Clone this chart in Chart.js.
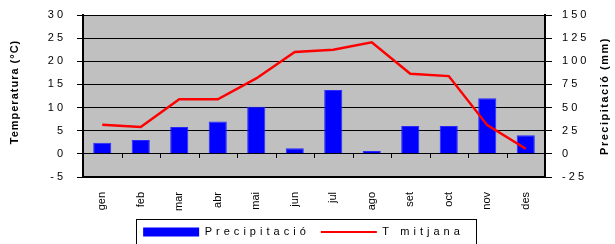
<!DOCTYPE html>
<html>
<head>
<meta charset="utf-8">
<script src="https://cdn.jsdelivr.net/npm/chart.js@4"></script>
<style>
  html, body { margin: 0; padding: 0; background: #fff; }
  #wrap { width: 615px; height: 244px; }
</style>
</head>
<body>
<div id="wrap"><canvas id="climograma"></canvas></div>
<script>
// Dades del climograma
const mesos = ["gen", "feb", "mar", "abr", "mai", "jun", "jul", "ago", "set", "oct", "nov", "des"];
const precipitacio = [12, 15, 29, 35, 51, 6, 69, 3, 30, 30, 60, 20];
const tempMitjana = [6.3, 5.8, 11.8, 11.8, 16.3, 22.0, 22.5, 24.1, 17.3, 16.8, 6.2, 1.1];
const etiquetes = ["Precipitació", "T mitjana"];

const FONT = "'Liberation Sans', Arial, sans-serif";
Chart.defaults.font.family = FONT;
Chart.defaults.font.size = 11;
Chart.defaults.color = "#000";

// separa els caràcters com a l'original
function espaiat(t, sep) {
    return String(t).split('').join(sep || ' ');
}

// fons gris de l'àrea del gràfic
const fonsGris = {
    id: 'fonsGris',
    beforeDraw(chart) {
        const a = chart.chartArea;
        chart.ctx.save();
        chart.ctx.fillStyle = '#C0C0C0';
        chart.ctx.fillRect(a.left, a.top, a.right - a.left, a.bottom - a.top);
        chart.ctx.restore();
    }
};

function titolVertical(ctx, text, x, y, sp) {
    ctx.save();
    ctx.translate(x, y);
    ctx.rotate(-Math.PI / 2);
    ctx.font = "bold 11px " + FONT;
    ctx.letterSpacing = sp;
    ctx.textAlign = 'center';
    ctx.textBaseline = 'middle';
    ctx.fillStyle = '#000';
    ctx.fillText(text, 0, 0);
    ctx.restore();
}

// marques de l'eix X sobre la línia del zero, títols dels eixos i marc de la llegenda
const extres = {
    id: 'extres',
    afterDraw(chart) {
        const ctx = chart.ctx;
        const x = chart.scales.x;
        const y0 = Math.round(chart.scales.y.getPixelForValue(0));
        ctx.save();
        ctx.strokeStyle = '#000';
        ctx.lineWidth = 1;
        ctx.beginPath();
        for (let i = 0; i < mesos.length - 1; i++) {
            const px = Math.round((x.getPixelForValue(i) + x.getPixelForValue(i + 1)) / 2) + 0.5;
            ctx.moveTo(px, y0);
            ctx.lineTo(px, y0 + 4);
        }
        ctx.stroke();
        ctx.restore();

        const a = chart.chartArea;
        const cy = (a.top + a.bottom) / 2;
        titolVertical(ctx, 'Temperatura (°C)', 15, cy - 4, '1px');
        titolVertical(ctx, 'Precipitació (mm)', 605, cy, '1.5px');

        // marc de la llegenda
        const hb = chart.legend.legendHitBoxes;
        if (hb && hb.length) {
            const l = hb[0].left - 7;
            const r = hb[hb.length - 1].left + hb[hb.length - 1].width + 16;
            const t = hb[0].top + hb[0].height / 2 - 13;
            ctx.save();
            ctx.strokeStyle = '#000';
            ctx.lineWidth = 1;
            ctx.strokeRect(Math.round(l) + 0.5, Math.round(t) + 0.5, Math.round(r - l), 40);
            ctx.restore();
        }
    }
};

// sense marge extra a dalt i a baix per les etiquetes de l'eix vertical
function ajustaEix(amplada) {
    return function (scale) {
        scale.width = amplada;
        scale.paddingTop = 0;
        scale.paddingBottom = 0;
    };
}

new Chart(document.getElementById("climograma"), {
    type: "bar",
    data: {
        labels: mesos,
        datasets: [{
            type: "bar",
            label: etiquetes[0],
            data: precipitacio,
            yAxisID: "y2",
            backgroundColor: "#0000FF",
            borderColor: "#2A2AFF",
            borderWidth: 1,
            barPercentage: 0.47,
            categoryPercentage: 1,
            order: 1
        }, {
            type: "line",
            label: etiquetes[1],
            data: tempMitjana,
            yAxisID: "y",
            borderColor: "#FF0000",
            backgroundColor: "#FF0000",
            borderWidth: 2.5,
            pointRadius: 0,
            tension: 0,
            order: 0
        }]
    },
    options: {
        responsive: true,
        maintainAspectRatio: false,
        animation: false,
        // marge esquerre negatiu: la llegenda queda una mica desplaçada a l'esquerra
        layout: { padding: { top: 15, left: -12, right: 0, bottom: -3.5 } },
        plugins: {
            tooltip: { enabled: false },
            legend: {
                position: "bottom",
                labels: {
                    usePointStyle: true,
                    pointStyleWidth: 56,
                    boxHeight: 9,
                    padding: 15,
                    font: { size: 11 },
                    generateLabels(chart) {
                        const items = Chart.defaults.plugins.legend.labels.generateLabels(chart);
                        items.sort((a, b) => a.datasetIndex - b.datasetIndex);
                        items.forEach(it => {
                            const ds = chart.data.datasets[it.datasetIndex];
                            it.text = espaiat(ds.label, '\u2006\u2009');
                            if (ds.type === "line") {
                                it.pointStyle = "line";
                                it.lineWidth = 2;
                                it.strokeStyle = "#FF0000";
                            } else {
                                it.pointStyle = "rect";
                                it.lineWidth = 0;
                                it.fillStyle = "#0000FF";
                                it.strokeStyle = "#0000FF";
                            }
                        });
                        return items;
                    }
                }
            }
        },
        scales: {
            x: {
                grid: { display: false },
                border: { display: true, color: "#000", width: 2 },
                ticks: {
                    minRotation: 90,
                    maxRotation: 90,
                    padding: 7,
                    font: { size: 11 }
                },
                afterFit(scale) { scale.height = 34.5; }
            },
            y: {
                position: "left",
                min: -5,
                max: 30,
                ticks: {
                    stepSize: 5,
                    padding: 14,
                    callback: v => espaiat(v)
                },
                grid: { color: "#000", tickLength: 6, lineWidth: 1 },
                border: { color: "#000", width: 2 },
                afterFit: ajustaEix(95)
            },
            y2: {
                position: "right",
                min: -25,
                max: 150,
                ticks: {
                    stepSize: 25,
                    padding: 10,
                    callback: v => espaiat(v)
                },
                grid: { drawOnChartArea: false, color: "#000", tickLength: 7 },
                border: { color: "#000", width: 2 },
                afterFit: ajustaEix(70)
            }
        }
    },
    plugins: [fonsGris, extres]
});
</script>
</body>
</html>
